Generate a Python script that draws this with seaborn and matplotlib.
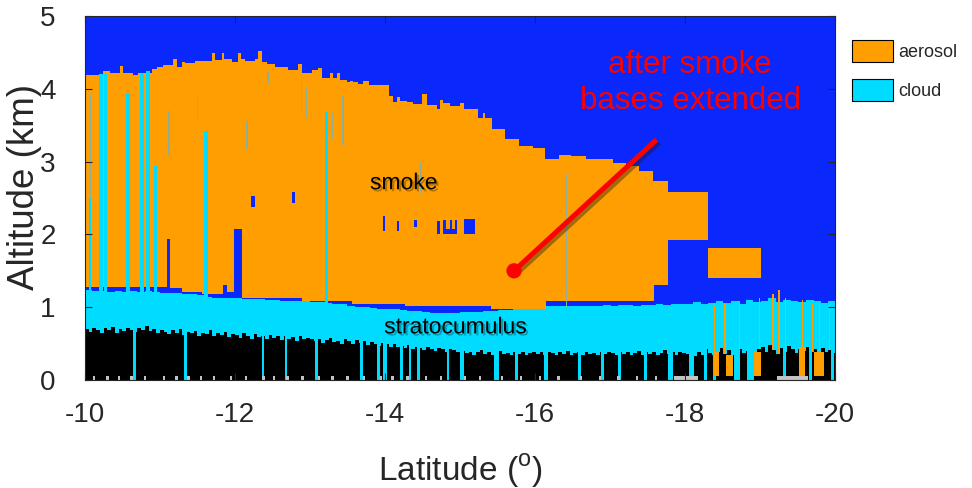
import numpy as np
import matplotlib
matplotlib.use("Agg")
import matplotlib.pyplot as plt
import seaborn as sns
from matplotlib.colors import ListedColormap
from matplotlib.patches import Patch
import matplotlib.patheffects as pe

# ---------------- data ----------------
# smoke (aerosol) top: left edge of each step (deg) and top altitude (km); 0 = no smoke
smoke_top_lat = [-10.00, -10.244, -10.333, -10.467, -10.511, -10.644, -10.711, -10.889, -10.956,
                 -11.044, -11.178, -11.222, -11.289, -11.333, -11.467, -11.689, -11.733, -11.822,
                 -11.858, -11.956, -12.036, -12.080, -12.133, -12.267, -12.311, -12.356, -12.422,
                 -12.533, -12.711, -12.844, -12.889, -13.022, -13.111, -13.156, -13.267, -13.311,
                 -13.356, -13.400, -13.489, -13.533, -13.578, -13.644, -13.711, -13.791, -14.058,
                 -14.111, -14.164, -14.200, -14.289, -14.378, -14.489, -14.556, -14.689, -14.733,
                 -14.778, -14.867, -15.000, -15.044, -15.222, -15.289, -15.320, -15.409, -15.587,
                 -15.778, -15.956, -16.120, -16.311, -16.467, -16.667, -17.022, -17.200, -17.378,
                 -17.556, -17.760, -18.290]
smoke_top_km = [4.18, 4.23, 4.20, 4.30, 4.20, 4.18, 4.21, 4.26, 4.28,
                4.31, 4.39, 4.29, 4.36, 4.34, 4.37, 4.48, 4.38, 4.48,
                4.40, 4.36, 4.48, 4.39, 4.37, 4.39, 4.51, 4.36, 4.33,
                4.28, 4.25, 4.33, 4.21, 4.25, 4.27, 4.13, 4.21, 4.13,
                4.21, 4.11, 4.08, 4.10, 4.08, 4.05, 4.09, 4.04, 3.89,
                3.81, 3.88, 3.82, 3.80, 3.78, 3.92, 3.77, 3.71, 3.83,
                3.79, 3.75, 3.79, 3.71, 3.58, 3.66, 3.59, 3.43, 3.29,
                3.20, 3.17, 3.02, 3.08, 3.06, 3.02, 2.97, 2.93, 2.86,
                2.72, 2.57, 0.00]
# smoke base (after extension): left edge of each step and base altitude (km)
smoke_base_lat = [-10.00, -11.11, -11.29, -11.56, -11.87, -12.00, -12.09, -12.89, -13.56,
                  -14.27, -15.40, -16.13, -17.58, -17.76, -18.29]
smoke_base_km = [1.28, 1.26, 1.21, 1.18, 1.21, 1.15, 1.12, 1.08, 1.04,
                 1.01, 0.97, 1.08, 1.30, 1.92, 9.00]
# detached aerosol layer
box_lat = [-18.29, -19.00]
box_km = [1.40, 1.81]

# stratocumulus top, every 0.1 deg from -10 to -20
cloud_top_km = [1.23, 1.22, 1.22, 1.21, 1.22, 1.21, 1.22, 1.21, 1.22, 1.21, 1.20,
                1.19, 1.19, 1.18, 1.18, 1.17,
                1.14, 1.13, 1.13, 1.13, 1.12,
                1.11, 1.11, 1.11, 1.10, 1.10, 1.09,
                1.08, 1.08, 1.08, 1.07, 1.07, 1.06, 1.05, 1.04,
                1.01, 1.00, 1.00, 0.99, 0.98,
                0.97, 0.97, 0.96, 0.95, 0.95,
                0.93, 0.92, 0.92, 0.92, 0.92,
                0.93, 0.94, 0.94, 0.95, 0.95,
                0.96, 0.96, 0.97, 0.98, 0.99,
                1.00, 1.01, 1.01, 1.01, 1.02,
                1.02, 1.02, 1.02, 1.02, 1.03,
                1.02, 1.03, 1.03, 1.02, 1.03,
                1.03, 1.04, 1.03, 1.04, 1.05,
                1.05, 1.07, 1.04, 1.06, 1.08,
                1.06, 1.09, 1.05, 1.10, 1.07,
                1.08, 1.12, 1.07, 1.10, 1.09,
                1.07, 1.10, 1.08, 1.06, 1.08]

# top of the fully attenuated (black) region, every 0.05 deg
black_top_km = [0.70, 0.66, 0.72, 0.68, 0.64, 0.71, 0.69, 0.73, 0.65, 0.70, 0.67, 0.72, 0.69, 0.66, 0.71, 0.68, 0.74, 0.67, 0.70, 0.65,
                0.69, 0.66, 0.63, 0.68, 0.64, 0.70, 0.62, 0.66, 0.64, 0.67, 0.61, 0.65, 0.63, 0.68, 0.60, 0.64, 0.62, 0.66, 0.59, 0.63,
                0.62, 0.58, 0.64, 0.60, 0.57, 0.63, 0.59, 0.61, 0.56, 0.62, 0.58, 0.60, 0.55, 0.61, 0.57, 0.59, 0.54, 0.60, 0.56, 0.58,
                0.57, 0.53, 0.56, 0.51, 0.55, 0.58, 0.52, 0.54, 0.50, 0.56, 0.53, 0.49, 0.55, 0.51, 0.53, 0.48, 0.52, 0.50, 0.47, 0.51,
                0.49, 0.46, 0.50, 0.45, 0.47, 0.44, 0.48, 0.43, 0.46, 0.44, 0.41, 0.45, 0.43, 0.40, 0.44, 0.42, 0.39, 0.43, 0.41, 0.38,
                0.40, 0.37, 0.39, 0.35, 0.38, 0.41, 0.36, 0.39, 0.34, 0.38, 0.40, 0.36, 0.37, 0.35, 0.39, 0.36, 0.38, 0.34, 0.37, 0.39,
                0.36, 0.38, 0.35, 0.39, 0.37, 0.34, 0.38, 0.36, 0.40, 0.35, 0.37, 0.39, 0.34, 0.38, 0.36, 0.37, 0.35, 0.39, 0.36, 0.38,
                0.37, 0.35, 0.39, 0.36, 0.38, 0.34, 0.37, 0.40, 0.35, 0.38, 0.36, 0.39, 0.34, 0.37, 0.41, 0.36, 0.38, 0.35, 0.39, 0.37,
                0.36, 0.40, 0.33, 0.38, 0.35, 0.42, 0.37, 0.34, 0.39, 0.44, 0.36, 0.41, 0.35, 0.38, 0.43, 0.37, 0.40, 0.34, 0.39, 0.42,
                0.45, 0.38, 0.48, 0.41, 0.36, 0.44, 0.39, 0.47, 0.42, 0.37, 0.43, 0.40, 0.46, 0.38, 0.42, 0.36, 0.44, 0.39, 0.41, 0.37]

# columns where cloud reaches the ground (cyan through the black layer)
gap_lat = [-10.66, -11.34, -12.37, -12.68, -13.09, -13.69, -13.91, -14.00, -14.22, -14.33, -14.45,
           -14.84, -15.02, -15.47, -15.74, -16.13, -16.58, -16.89, -17.11, -17.46, -17.79, -18.07,
           -18.26, -18.38, -18.68, -18.86, -19.31, -19.66, -19.95]
gap_width = [0.04, 0.03, 0.03, 0.03, 0.04, 0.04, 0.04, 0.06, 0.04, 0.03, 0.04,
             0.03, 0.04, 0.06, 0.03, 0.05, 0.04, 0.04, 0.04, 0.03, 0.07, 0.07,
             0.04, 0.04, 0.09, 0.09, 0.04, 0.04, 0.04]

# cloud columns rising into the smoke
cyan_lat = [-10.065, -10.215, -10.27, -10.575, -10.76, -10.84, -10.94, -11.615, -13.22]
cyan_width = [0.03, 0.05, 0.04, 0.05, 0.06, 0.06, 0.04, 0.05, 0.04]
cyan_top_km = [2.50, 4.19, 4.19, 3.93, 4.19, 4.23, 2.93, 3.41, 3.67]

# faint thin cloud traces inside the smoke
trace_lat = [-10.07, -11.12, -11.50, -12.16, -12.44, -12.89, -12.95, -13.30, -13.44, -14.48, -16.41]
trace_bottom_km = [2.50, 3.07, 3.57, 3.16, 4.07, 3.66, 3.59, 3.30, 3.21, 2.56, 1.00]
trace_top_km = [3.91, 3.68, 3.91, 3.55, 4.23, 4.19, 4.00, 3.64, 3.89, 2.98, 2.82]

# clear-air columns cutting up into the smoke from its base
clear_col_lat = [[-11.09, -11.13], [-11.84, -11.89], [-11.99, -12.09]]
clear_col_top_km = [1.93, 1.30, 2.08]

# clear-air holes inside the smoke: lat_left, lat_right, bottom, top
hole_lat_left = [-12.21, -12.76, -13.97, -14.16, -14.39, -14.69, -14.78, -14.78, -14.87, -14.93, -15.04]
hole_lat_right = [-12.27, -12.80, -14.00, -14.19, -14.42, -14.73, -14.96, -14.81, -14.89, -14.96, -15.19]
hole_bottom_km = [2.38, 2.43, 2.04, 2.04, 2.10, 2.00, 2.00, 2.00, 2.00, 2.00, 2.00]
hole_top_km = [2.51, 2.57, 2.25, 2.18, 2.20, 2.18, 2.08, 2.20, 2.20, 2.20, 2.21]

# aerosol columns inside the black region (south end)
aer_col_lat = [[-18.37, -18.44], [-18.53, -18.62], [-18.91, -19.00], [-19.51, -19.58], [-19.71, -19.84]]
aer_col_top_km = [0.39, 0.34, 0.39, 0.46, 0.39]
# thin aerosol streaks through the cloud
aer_streak_lat = [-18.38, -18.52, -18.71, -18.98, -19.16, -19.24, -19.33, -19.55, -19.69, -19.78, -19.91]
aer_streak_top_km = [1.03, 1.05, 1.09, 1.12, 1.18, 1.24, 1.12, 1.10, 1.06, 1.06, 1.04]

# surface return speckles
surf_lat = [-10.12, -10.30, -10.45, -10.62, -10.80, -11.05, -11.22, -11.38, -11.55, -11.72, -11.95,
            -12.15, -12.38, -12.52, -12.70, -12.90, -13.12, -13.30, -13.50, -13.72, -13.95, -14.10,
            -14.30, -14.55, -14.75, -15.05, -15.25, -15.55, -15.80, -16.05, -16.30, -16.60, -16.85,
            -17.10, -17.35, -17.60]
surf_band_lat = [[-17.84, -18.16], [-19.22, -19.62]]

xticks = [-10, -12, -14, -16, -18, -20]
yticks = [0, 1, 2, 3, 4, 5]
legend_labels = ["aerosol", "cloud"]

pointer_lat = [-17.62, -15.72]
pointer_alt = [3.30, 1.50]

# ---------------- colours ----------------
C_BLUE = "#0a28fc"
C_ORANGE = "#ff9e00"
C_CYAN = "#00dcff"
C_BLACK = "#000000"
C_GRAY = "#c4c4c4"
C_TRACE = "#8fae96"
cmap = ListedColormap([C_BLUE, C_ORANGE, C_CYAN, C_BLACK, C_GRAY, C_TRACE])

# ---------------- build classification curtain ----------------
ncol, nrow = 750, 364
lat_c = -10 - (np.arange(ncol) + 0.5) * 10 / ncol
alt_c = (np.arange(nrow) + 0.5) * 5 / nrow
A = alt_c[:, None]


def step(edges, vals, lat):
    idx = np.searchsorted(-np.asarray(edges), -lat, side="right") - 1
    return np.asarray(vals)[np.clip(idx, 0, len(vals) - 1)]


def cols_between(a, b):
    lo, hi = min(a, b), max(a, b)
    m = (lat_c >= lo) & (lat_c <= hi)
    if not m.any():
        m[np.argmin(np.abs(lat_c - (a + b) / 2))] = True
    return m


def cols_around(c, w):
    return cols_between(c - max(w, 0.0134) / 2, c + max(w, 0.0134) / 2)


st = step(smoke_top_lat, smoke_top_km, lat_c)[None, :]
sb = step(smoke_base_lat, smoke_base_km, lat_c)[None, :]
ct_edges = list(np.linspace(-10, -20, len(cloud_top_km) + 1)[:-1])
ct = step(ct_edges, cloud_top_km, lat_c)[None, :]
bt_edges = list(np.linspace(-10, -20, len(black_top_km) + 1)[:-1])
bt = step(bt_edges, black_top_km, lat_c)[None, :]

grid = np.zeros((nrow, ncol), dtype=int)
grid[np.broadcast_to(A < ct, grid.shape)] = 2
black = np.broadcast_to(A < bt, grid.shape).copy()
for c, w in zip(gap_lat, gap_width):
    black[:, cols_around(c, w)] = False
grid[black] = 3
grid[np.broadcast_to((A >= sb) & (A < st), grid.shape)] = 1
m = cols_between(*box_lat)[None, :] & (A >= box_km[0]) & (A < box_km[1])
grid[m] = 1
for l, r, b, t in zip(hole_lat_left, hole_lat_right, hole_bottom_km, hole_top_km):
    grid[cols_between(l, r)[None, :] & (A >= b) & (A < t)] = 0
for (l, r), t in zip(clear_col_lat, clear_col_top_km):
    grid[cols_between(l, r)[None, :] & (A >= ct) & (A < t)] = 0
for c, w, t in zip(cyan_lat, cyan_width, cyan_top_km):
    grid[cols_around(c, w)[None, :] & (A >= bt) & (A < t)] = 2
for c, b, t in zip(trace_lat, trace_bottom_km, trace_top_km):
    grid[cols_around(c, 0.0)[None, :] & (A >= b) & (A < t)] = 5
for c, t in zip(aer_streak_lat, aer_streak_top_km):
    grid[cols_around(c, 0.0)[None, :] & (A >= bt) & (A < t)] = 1
for (l, r), t in zip(aer_col_lat, aer_col_top_km):
    grid[cols_between(l, r)[None, :] & (A >= 0.06) & (A < t)] = 1
for c in surf_lat:
    grid[cols_around(c, 0.03)[None, :] & (A < 0.06)] = 4
for l, r in surf_band_lat:
    grid[cols_between(l, r)[None, :] & (A < 0.05)] = 4

# ---------------- plotting ----------------
sns.set_theme(style="ticks")
plt.rcParams["font.family"] = ["Liberation Sans", "DejaVu Sans"]
plt.rcParams["mathtext.fontset"] = "custom"
plt.rcParams["mathtext.rm"] = "Liberation Sans"
AX_COL = "#262626"

fig = plt.figure(figsize=(9.72, 4.88), dpi=100)
ax = fig.add_axes([85 / 972, 108 / 488, 750 / 972, 364 / 488])
ax.imshow(grid, cmap=cmap, vmin=-0.5, vmax=5.5, origin="lower", aspect="auto",
          extent=[-10, -20, 0, 5], interpolation="nearest")
ax.set_xlim(-10, -20)
ax.set_ylim(0, 5)
ax.set_xticks(xticks)
ax.set_xticklabels([str(v) for v in xticks])
ax.set_yticks(yticks)
ax.set_yticklabels([str(v) for v in yticks])
ax.tick_params(direction="in", length=5, width=0.8, color=AX_COL, top=True, right=True,
               labelsize=20, labelcolor=AX_COL)
ax.tick_params(axis="x", pad=16)
ax.tick_params(axis="y", pad=21)
for s in ax.spines.values():
    s.set_linewidth(0.8)
    s.set_color(AX_COL)
ax.set_xlabel("Latitude ($^{\\mathrm{o}}$)", fontsize=24, color=AX_COL, labelpad=17)
ax.set_ylabel("Altitude (km)", fontsize=26.5, color=AX_COL)
ax.yaxis.set_label_coords(-0.058, 0.53)

shadow_txt = [pe.withSimplePatchShadow(offset=(1.5, -1.5), shadow_rgbFace="#5a3a00", alpha=0.45)]
ax.text(-14.25, 2.71, "smoke", fontsize=16.5, color="black", ha="center", va="center",
        path_effects=shadow_txt)
ax.text(-14.94, 0.73, "stratocumulus", fontsize=16.5, color="black", ha="center", va="center",
        path_effects=[pe.withSimplePatchShadow(offset=(1.5, -1.5), shadow_rgbFace="#005060", alpha=0.45)])
ax.text(-18.07, 4.33, "after smoke", fontsize=22.5, color="#ff0000", ha="center", va="center")
ax.text(-18.07, 3.83, "bases extended", fontsize=22.5, color="#ff0000", ha="center", va="center")

sns.lineplot(x=pointer_lat, y=pointer_alt, color="#ff0000", linewidth=3.6, ax=ax, sort=False,
             solid_capstyle="butt",
             path_effects=[pe.SimpleLineShadow(offset=(2, -2), alpha=0.4), pe.Normal()])
sns.scatterplot(x=[pointer_lat[1]], y=[pointer_alt[1]], color="#ff0000", s=120, edgecolor="none",
                ax=ax, zorder=5)

handles = [Patch(facecolor=C_ORANGE, edgecolor="black", linewidth=0.8, label=legend_labels[0]),
           Patch(facecolor=C_CYAN, edgecolor="black", linewidth=0.8, label=legend_labels[1])]
fig.legend(handles=handles, loc="upper left", bbox_to_anchor=(852 / 972, 1 - 40 / 488),
           frameon=False, handlelength=2.25, handleheight=1.5, handletextpad=0.3,
           labelspacing=0.95, borderaxespad=0, borderpad=0,
           prop={"size": 13})

fig.savefig("out.png", dpi=100)
